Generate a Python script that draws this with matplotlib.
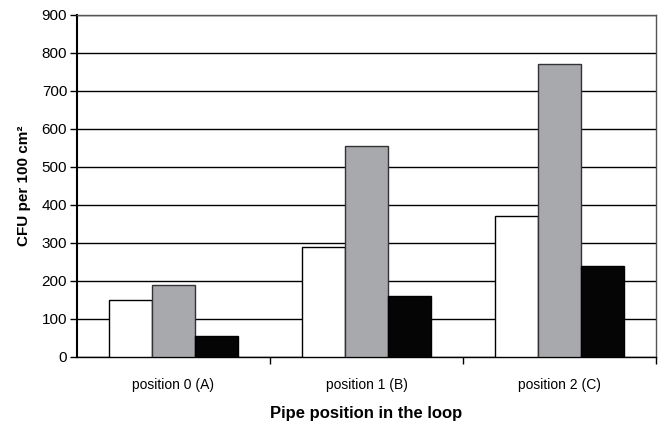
import numpy as np
import matplotlib.pyplot as plt

plt.rcParams['font.family'] = ['Liberation Sans', 'DejaVu Sans']

categories = ["position 0 (A)", "position 1 (B)", "position 2 (C)"]
series_white = [150, 290, 372]
series_gray = [190, 555, 772]
series_black = [55, 161, 239]

fig = plt.figure(figsize=(6.59, 4.28), dpi=100)
ax = fig.add_axes([0.1168, 0.1659, 0.8786, 0.7991])

x = np.arange(len(categories))
w = 0.223
ax.bar(x - w, series_white, w, color="white", edgecolor="black", linewidth=1, zorder=3)
ax.bar(x, series_gray, w, color="#a7a9ac", edgecolor="#333333", linewidth=1, zorder=3)
ax.bar(x + w, series_black, w, color="#050505", edgecolor="black", linewidth=1, zorder=3)

ax.set_xlim(-0.5, 2.5)
ax.set_ylim(0, 900)
ax.set_yticks(range(0, 901, 100))
ax.yaxis.grid(True, color="black", linewidth=1)
ax.set_axisbelow(True)

ax.set_xticks(x)
ax.set_xticklabels(categories, fontsize=10)
ax.set_xticks([0.5, 1.5, 2.5], minor=True)
ax.tick_params(axis="x", which="major", length=0, pad=15)
ax.tick_params(axis="x", which="minor", length=5, width=1, direction="out")
ax.tick_params(axis="y", labelsize=11, length=5, width=1, pad=2)

for side in ["top", "right"]:
    ax.spines[side].set_color("#555555")
    ax.spines[side].set_linewidth(1)
ax.spines["left"].set_linewidth(1.5)
ax.spines["bottom"].set_linewidth(1)

ax.set_ylabel("CFU per 100 cm²", fontsize=11, fontweight="bold", labelpad=8)
ax.set_xlabel("Pipe position in the loop", fontsize=12, fontweight="bold", labelpad=10)

plt.savefig("out.png", dpi=100)
